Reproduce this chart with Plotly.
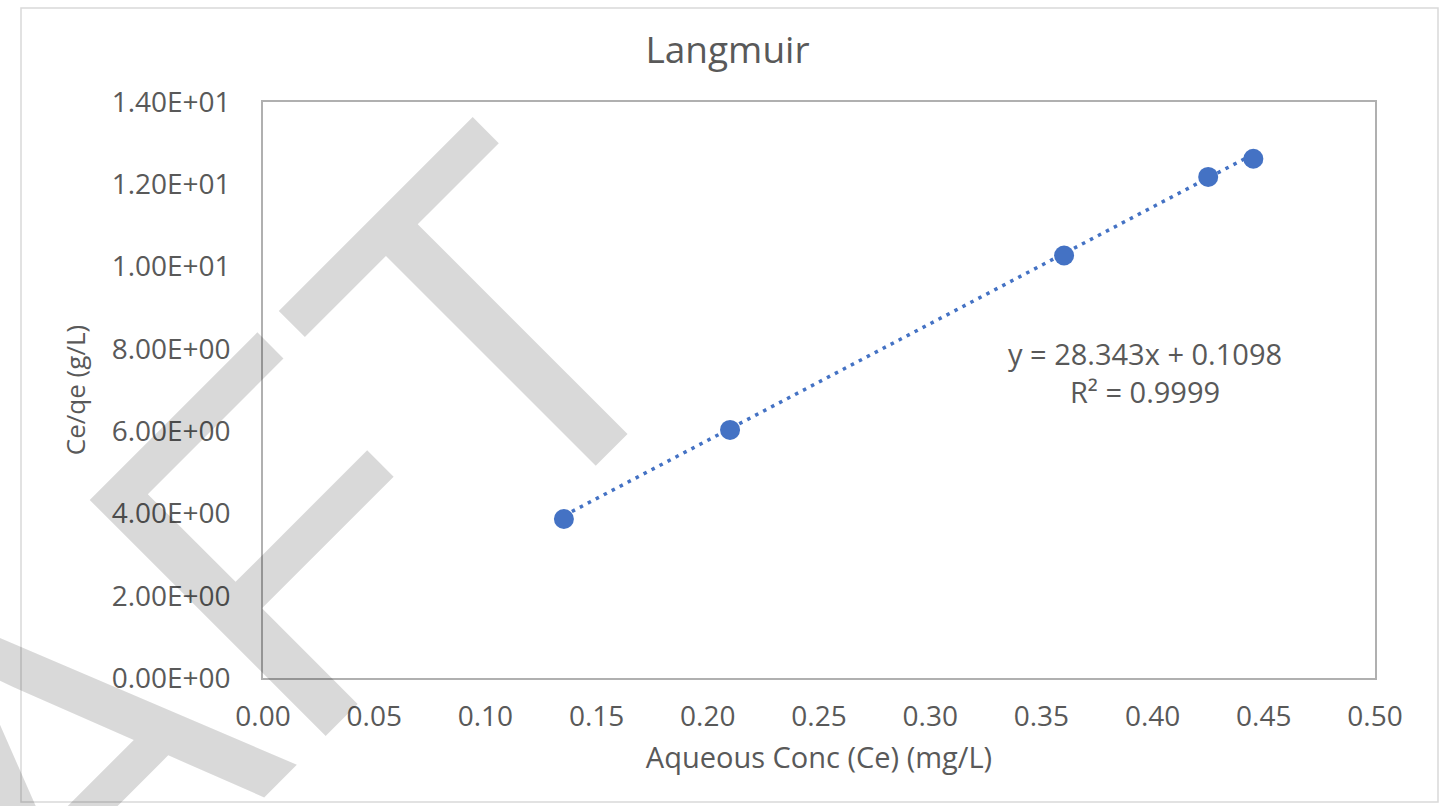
import plotly.graph_objects as go

# Langmuir isotherm data
ce = [0.1353, 0.2100, 0.3602, 0.4250, 0.4453]          # Aqueous Conc (Ce), mg/L
ce_qe = [3.865, 6.03, 10.27, 12.18, 12.62]              # Ce/qe, g/L

# Linear trendline coefficients
slope = 28.343
intercept = 0.1098
r_squared = 0.9999

x_ticks = [0.00, 0.05, 0.10, 0.15, 0.20, 0.25, 0.30, 0.35, 0.40, 0.45, 0.50]
y_ticks = [0, 2, 4, 6, 8, 10, 12, 14]
y_tick_labels = [f"{v:.2E}" for v in y_ticks]

W, H = 1455, 806
L, R, T, B = 263, W - 1375, 102, H - 678
pw, ph = W - L - R, H - T - B


def px_x(px):
    return (px - L) / pw


def px_y(py):
    return (H - B - py) / ph


FONT = "Open Sans"
TXT = "#595959"
BLUE = "#4472C4"

trend_x = [min(ce), max(ce)]
trend_y = [slope * v + intercept for v in trend_x]

fig = go.Figure()

fig.add_trace(go.Scatter(
    x=trend_x, y=trend_y, mode="lines",
    line=dict(color=BLUE, width=3.5, dash="3.5px,5.5px"),
    hoverinfo="skip", showlegend=False,
))

fig.add_trace(go.Scatter(
    x=ce, y=ce_qe, mode="markers",
    marker=dict(color=BLUE, size=20, line=dict(width=0)),
    showlegend=False,
))

fig.update_layout(
    width=W, height=H,
    margin=dict(l=L, r=R, t=T, b=B, pad=0),
    paper_bgcolor="white", plot_bgcolor="white",
    font=dict(family=FONT, color=TXT),
    title=dict(text="Langmuir", x=0.5, xref="container", y=1 - 50 / H,
               yref="container", xanchor="center", yanchor="middle",
               font=dict(size=37, color=TXT, family=FONT)),
    xaxis=dict(
        range=[0, 0.5], tickvals=x_ticks, tickformat=".2f",
        showgrid=False, zeroline=False, showline=True, mirror=True,
        linecolor="#b0b0b0", linewidth=1.5, ticks="",
        tickfont=dict(size=28, color=TXT, family=FONT),
        ticklabelstandoff=13,
        title=dict(text="Aqueous Conc (Ce) (mg/L)", standoff=14,
                   font=dict(size=29, color=TXT, family=FONT)),
    ),
    yaxis=dict(
        range=[0, 14], tickvals=y_ticks, ticktext=y_tick_labels,
        showgrid=False, zeroline=False, showline=True, mirror=True,
        linecolor="#b0b0b0", linewidth=1.5, ticks="",
        tickfont=dict(size=28, color=TXT, family=FONT),
        ticklabelstandoff=25,
        title=dict(text="Ce/qe (g/L)", standoff=19,
                   font=dict(size=26, color=TXT, family=FONT)),
    ),
    showlegend=False,
)

# Trendline equation
fig.add_annotation(
    xref="paper", yref="paper", x=px_x(1145), y=px_y(372),
    text=f"y = {slope}x + {intercept}<br>R² = {r_squared}",
    showarrow=False, xanchor="center", yanchor="middle", align="center",
    font=dict(size=29, color=TXT, family=FONT),
)

# Chart area border
fig.add_shape(
    type="rect", xref="paper", yref="paper",
    x0=px_x(21), x1=px_x(1438), y0=px_y(802), y1=px_y(8),
    line=dict(color="#d9d9d9", width=1.5), fillcolor="rgba(0,0,0,0)",
    layer="below",
)

# Watermark
fig.add_annotation(
    xref="paper", yref="paper", x=px_x(26), y=px_y(798),
    text="DRAFT", showarrow=False, textangle=-45,
    xanchor="center", yanchor="middle",
    font=dict(size=485, color="rgba(0,0,0,0.15)", family="Liberation Sans"),
)

fig.write_html("out.html")
